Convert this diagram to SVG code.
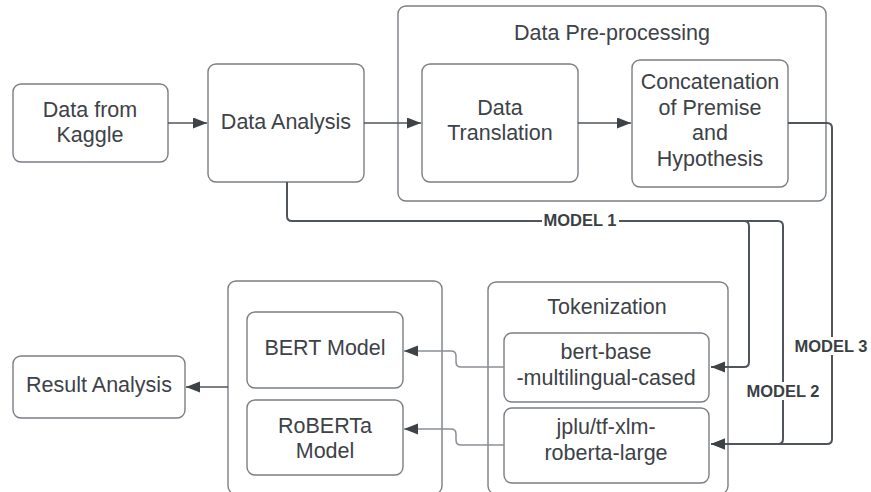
<svg xmlns="http://www.w3.org/2000/svg" width="871" height="492" viewBox="0 0 871 492">
<style>
.box{fill:#fff;stroke:#7a7f85;stroke-width:1.4}
.t{font-family:"Liberation Sans",Arial,sans-serif;font-size:21.5px;fill:#3d4247;text-anchor:middle}
.lbl{font-family:"Liberation Sans",Arial,sans-serif;font-size:16.5px;font-weight:bold;fill:#3a3f44;text-anchor:middle}
.c{fill:none;stroke:#50555b;stroke-width:1.5}
.m{fill:none;stroke:#50555b;stroke-width:2}
.g{fill:none;stroke:#8a8f94;stroke-width:1.5}
</style>
<defs>
<marker id="ah" markerUnits="userSpaceOnUse" markerWidth="15" markerHeight="12" refX="14" refY="5.5" orient="auto">
<path d="M0,0 L14,5.5 L0,11 z" fill="#3d4247"/>
</marker>
</defs>
<rect width="871" height="492" fill="#fff"/>

<g id="preprocessing">
<rect class="box" x="398" y="6" width="428" height="195" rx="8"/>
<text class="t" x="612" y="40">Data Pre-processing</text>
</g>
<g id="tokenization">
<rect class="box" x="488" y="282" width="240" height="212" rx="8"/>
<text class="t" x="607" y="314">Tokenization</text>
</g>
<g id="models">
<rect class="box" x="228" y="281" width="214" height="213" rx="8"/>
</g>

<g id="kaggle">
<rect class="box" x="13" y="84" width="155" height="78" rx="8"/>
<text class="t" x="90" y="117">Data from</text>
<text class="t" x="90" y="142">Kaggle</text>
</g>
<g id="analysis">
<rect class="box" x="208" y="64" width="156" height="118" rx="8"/>
<text class="t" x="286" y="129">Data Analysis</text>
</g>
<g id="translation">
<rect class="box" x="422" y="64" width="156" height="118" rx="8"/>
<text class="t" x="500" y="115">Data</text>
<text class="t" x="500" y="140">Translation</text>
</g>
<g id="concat">
<rect class="box" x="632" y="60" width="156" height="127" rx="8"/>
<text class="t" x="710" y="89">Concatenation</text>
<text class="t" x="710" y="115">of Premise</text>
<text class="t" x="710" y="140">and</text>
<text class="t" x="710" y="166">Hypothesis</text>
</g>
<g id="bertbase">
<rect class="box" x="504" y="333" width="205" height="69" rx="8"/>
<text class="t" x="606" y="359">bert-base</text>
<text class="t" x="606" y="385">-multilingual-cased</text>
</g>
<g id="xlm">
<rect class="box" x="504" y="408" width="205" height="75" rx="8"/>
<text class="t" x="606" y="434">jplu/tf-xlm-</text>
<text class="t" x="606" y="460">roberta-large</text>
</g>
<g id="bert">
<rect class="box" x="247" y="312" width="156" height="76" rx="8"/>
<text class="t" x="325" y="355">BERT Model</text>
</g>
<g id="roberta">
<rect class="box" x="247" y="400" width="156" height="75" rx="8"/>
<text class="t" x="325" y="433">RoBERTa</text>
<text class="t" x="325" y="458">Model</text>
</g>
<g id="result">
<rect class="box" x="13" y="356" width="172" height="62" rx="8"/>
<text class="t" x="99" y="392">Result Analysis</text>
</g>

<g id="connectors">
<path class="c" d="M168,123 H207" marker-end="url(#ah)"/>
<path class="c" d="M364,123 H421" marker-end="url(#ah)"/>
<path class="c" d="M578,123 H631" marker-end="url(#ah)"/>
<path class="c" d="M228,387 H186" marker-end="url(#ah)"/>
<path class="g" d="M504,367 H461 Q456,367 456,362 V356 Q456,351 451,351 H404" marker-end="url(#ah)"/>
<path class="g" d="M504,445 H461 Q456,445 456,440 V434 Q456,429 451,429 H404" marker-end="url(#ah)"/>
<path class="m" d="M287,182 V216 Q287,221 292,221 H744 Q749,221 749,226 V362 Q749,367 744,367 H711" marker-end="url(#ah)"/>
<path class="m" d="M744,221 H778 Q783,221 783,226 V439 Q783,444 778,444 H711" marker-end="url(#ah)"/>
<path class="m" d="M788,123 H827 Q832,123 832,128 V439 Q832,444 827,444 H711" marker-end="url(#ah)"/>
<rect x="542" y="211" width="77" height="18" fill="#fff"/>
<text class="lbl" x="580" y="226">MODEL 1</text>
<rect x="744" y="382" width="78" height="18" fill="#fff"/>
<text class="lbl" x="783" y="397">MODEL 2</text>
<rect x="793" y="337" width="78" height="18" fill="#fff"/>
<text class="lbl" x="831" y="352">MODEL 3</text>
</g>
</svg>
